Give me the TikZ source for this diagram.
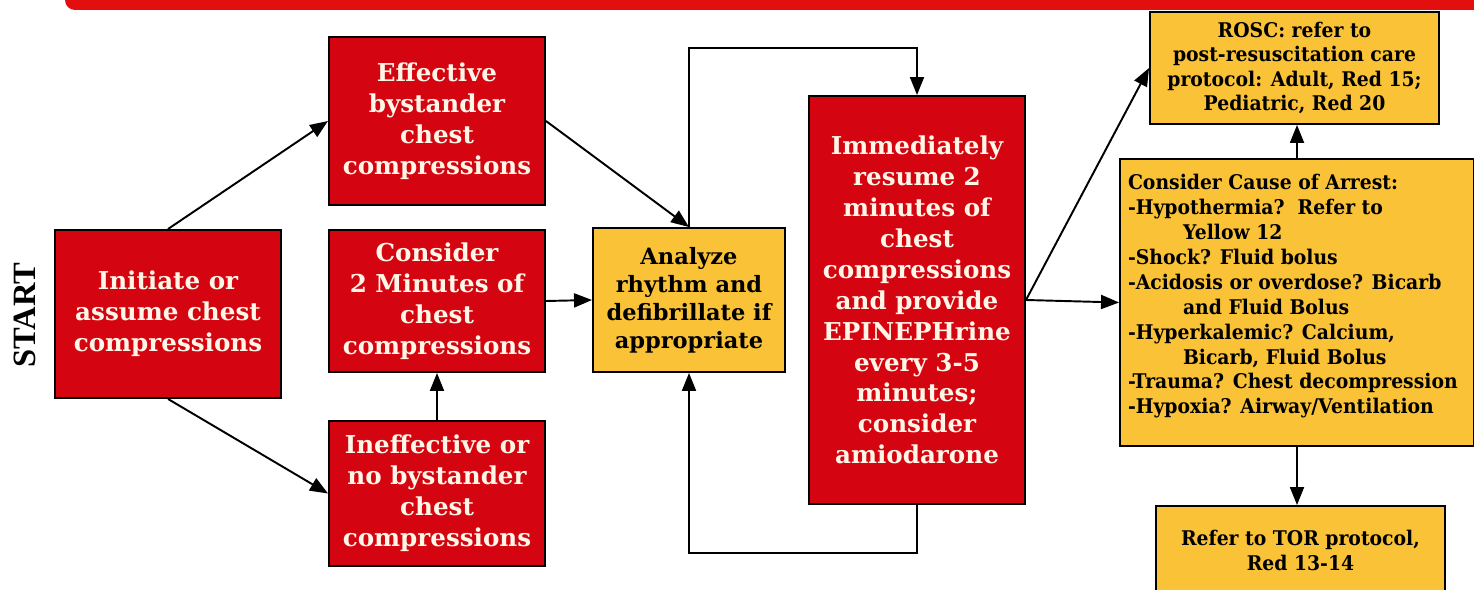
\documentclass[tikz,border=0pt]{standalone}
\usepackage{fontspec}
\setmainfont{DejaVu Serif}
\newfontfamily\yelfont{DejaVu Serif}[FakeStretch=0.93]
\newfontfamily\startfont{Liberation Serif}
\usetikzlibrary{arrows.meta}

\definecolor{barred}{RGB}{227,14,14}
\definecolor{boxred}{RGB}{212,5,17}
\definecolor{boxyellow}{RGB}{250,195,55}
\definecolor{cream}{RGB}{255,246,232}

\begin{document}
\begin{tikzpicture}
		[redbox/.style={rectangle, draw=black, line width=1.1pt, fill=boxred, text=cream, align=center,
			font=\bfseries\fontsize{14}{17.6}\selectfont, inner sep=2pt},
		yelbox/.style={rectangle, draw=black, line width=1.1pt, fill=boxyellow, text=black, align=center,
			font=\yelfont\bfseries\fontsize{11.5}{14}\selectfont, inner sep=2pt},
		arr/.style={-{Triangle[length=0.36cm, width=0.28cm]}, line width=1.1pt}]
		\useasboundingbox (0,0) rectangle (29.48,11.78);
		\fill[barred, rounded corners=0.2cm] (1.3,12.2) rectangle (30,11.58);

		\node[rotate=90, font=\startfont\bfseries\fontsize{18.5}{22}\selectfont] (start) at (0.5,5.48) {START};
		\node[redbox, minimum width=4.52cm, minimum height=3.36cm] (init) at (3.36,5.5) {Initiate or\\assume chest\\compressions};
		\node[redbox, minimum width=4.32cm, minimum height=3.36cm] (eff) at (8.74,9.36) {Effective\\bystander\\chest\\compressions};
		\node[redbox, minimum width=4.32cm, minimum height=2.84cm] (cons) at (8.74,5.76) {Consider\\2 Minutes of\\chest\\compressions};
		\node[redbox, minimum width=4.32cm, minimum height=2.9cm] (ineff) at (8.74,1.91) {Ineffective or\\no bystander\\chest\\compressions};
		\node[yelbox, font=\bfseries\fontsize{12.8}{15.9}\selectfont, minimum width=3.84cm, minimum height=2.88cm] (anl) at (13.78,5.78) {Analyze\\rhythm and\\defibrillate if\\appropriate};
		\node[redbox, minimum width=4.32cm, minimum height=8.16cm] (imm) at (18.34,5.78) {Immediately\\resume 2\\minutes of\\chest\\compressions\\and provide\\EPINEPHrine\\every 3-5\\minutes;\\consider\\amiodarone};
		\node[yelbox, minimum width=5.78cm, minimum height=2.24cm] (rosc) at (25.89,10.42) {ROSC: refer to\\post-resuscitation care\\protocol: Adult, Red 15;\\Pediatric, Red 20};
		\node[yelbox, align=left, inner sep=0pt] (cause) at (25.94,5.73)
			{\parbox[c][5.74cm][t]{7.08cm}{\raggedright\leftskip=0.16cm\baselineskip=14.2pt\vspace{0.3cm}
			Consider Cause of Arrest:\\
			-Hypothermia?\ \ Refer to\\
			\hspace*{1.1cm}Yellow 12\\
			-Shock? Fluid bolus\\
			-Acidosis or overdose? Bicarb\\
			\hspace*{1.1cm}and Fluid Bolus\\
			-Hyperkalemic? Calcium,\\
			\hspace*{1.1cm}Bicarb, Fluid Bolus\\
			-Trauma? Chest decompression\\
			-Hypoxia? Airway/Ventilation}};
		\node[yelbox, minimum width=5.78cm, minimum height=1.78cm] (tor) at (26.01,0.77) {Refer to TOR protocol,\\Red 13-14};

		\coordinate (looptop) at (15,10.82);
		\coordinate (loopbot) at (15,0.72);

		\draw[arr] (init.north) -- (eff.west);
		\draw[arr] (init.south) -- (ineff.west);
		\draw[arr] (eff.east) -- (anl.north);
		\draw[arr] (cons.east) -- (anl.west);
		\draw[arr] (ineff.north) -- (cons.south);
		\draw[arr] (anl.north) -- (anl.north |- looptop) -| (imm.north);
		\draw[arr] (imm.south) -- (imm.south |- loopbot) -| (anl.south);
		\draw[arr] (imm.east) -- (cause.west);
		\draw[arr] (imm.east) -- (rosc.west);
		\draw[arr] (cause.north) -- (cause.north |- rosc.south);
		\draw[arr] (cause.south) -- (cause.south |- tor.north);
	\end{tikzpicture}
\end{document}
